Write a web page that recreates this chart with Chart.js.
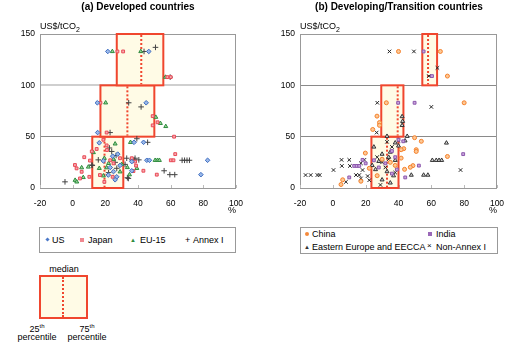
<!DOCTYPE html>
<html>
<head>
<meta charset="utf-8">
<script src="https://cdn.jsdelivr.net/npm/chart.js@4"></script>
<style>
  body { margin: 0; background: #fff; font-family: "Liberation Sans", Arial, sans-serif; color: #000; }
  #wrap { position: relative; width: 522px; height: 344px; overflow: hidden; }
  canvas { position: absolute; top: 0; }
  .t { position: absolute; white-space: nowrap; font-size: 9px; line-height: 10px; }
  .title { font-weight: bold; font-size: 10px; text-align: center; }
  .legend { position: absolute; border: 1px solid #999; box-sizing: border-box; }
  .mk { position: absolute; box-sizing: border-box; }
  .c { transform: translateX(-50%); text-align: center; }
</style>
</head>
<body>
<div id="wrap">
  <canvas id="devChart" width="261" height="220" style="left:0"></canvas>
  <canvas id="dingChart" width="261" height="220" style="left:261px"></canvas>

  <div class="t title c" style="left:138px; top:2px">(a) Developed countries</div>
  <div class="t title c" style="left:399px; top:2px">(b) Developing/Transition countries</div>
  <div class="t" style="left:40px; top:21px">US$/tCO<sub style="font-size:7px">2</sub></div>
  <div class="t" style="left:300px; top:21px">US$/tCO<sub style="font-size:7px">2</sub></div>

  <div class="legend" style="left:39px; top:227px; width:197px; height:26px"></div>
  <div class="mk" style="left:46px; top:238px; width:3px; height:3px; background:#4a78c8; transform:rotate(45deg)"></div>
  <div class="t" style="left:52px; top:235px">US</div>
  <div class="mk" style="left:80px; top:238px; width:4px; height:4px; background:#f08890"></div>
  <div class="t" style="left:88px; top:235px">Japan</div>
  <div class="t" style="left:130px; top:235px; font-size:6px; color:#2e8b3e">▲</div>
  <div class="t" style="left:140px; top:235px">EU-15</div>
  <div class="t" style="left:185px; top:235px">+</div>
  <div class="t" style="left:193px; top:235px">Annex I</div>

  <div class="legend" style="left:300px; top:227px; width:198px; height:27px"></div>
  <div class="mk" style="left:305px; top:232px; width:4px; height:4px; background:#f5893a; border-radius:50%"></div>
  <div class="t" style="left:312px; top:229px">China</div>
  <div class="mk" style="left:428px; top:232px; width:4px; height:4px; background:#9a68b8"></div>
  <div class="t" style="left:436px; top:229px">India</div>
  <div class="t" style="left:304px; top:242px; font-size:6px; color:#333">▲</div>
  <div class="t" style="left:312px; top:242px">Eastern Europe and EECCA</div>
  <div class="t" style="left:427px; top:241px; font-size:8px">×</div>
  <div class="t" style="left:436px; top:242px">Non-Annex I</div>

  <div class="t c" style="left:64px; top:264px">median</div>
  <div class="mk" style="left:39px; top:275px; width:49px; height:44px; border:2px solid #f0462e; background:#fffbe6"></div>
  <div class="mk" style="left:62px; top:277px; width:0; height:40px; border-left:2px dotted #f0462e"></div>
  <div class="t c" style="left:37px; top:321px">25<sup style="font-size:6px">th</sup></div>
  <div class="t c" style="left:37px; top:332px">percentile</div>
  <div class="t c" style="left:87px; top:321px">75<sup style="font-size:6px">th</sup></div>
  <div class="t c" style="left:87px; top:332px">percentile</div>
</div>

<script>
// (a) developed countries: [share %, price US$/tCO2]
const usPts = [[21.5,133],[46.6,133],[15.1,83],[45,83],[15.3,54],[37.6,44.5],[43.4,44.5],[16.3,44],[24.5,31],[27.6,33],
  [18.8,26.4],[36.2,25.7],[45.4,27],[47,27],[82.6,27],[21.8,12.6],[27,10.9],[36.2,16.8],[78.5,13],[23,20],[29,22],[25,16],[26,8]];
const japanPts = [[27.4,133],[30.9,133],[58,108],[60,108],[17,83],[49,70],[52,64],[49,61],[20.8,54],[62.1,50],[18.8,47],
  [20.8,41.5],[14.7,38],[11.7,35.6],[7.1,30],[10.6,26.7],[1.4,22.4],[2.4,19.1],[5.5,15.8],[4.5,9.3],[10.2,10.9],[16.7,12.6],
  [24.5,10.9],[29,29],[36.2,29],[38.2,25.7],[37.2,16.5],[38.8,21.8],[43.3,16.8],[51.5,13],[60.1,27],[61.7,27],[62.8,33],
  [19.4,6],[21,37],[23,27],[25,24]];
const euPts = [[24.3,133],[41.7,133],[56.8,108],[20.2,83],[50.9,69],[53.7,63],[57,60],[26,43],[35.4,44.5],[12.7,34.6],
  [19.4,29],[9.6,20.5],[5.5,19.8],[6.5,10.3],[16.3,19.2],[20.8,19.8],[18.8,11.9],[29,15.8],[30,23],[33.5,20],[39.3,19.2],
  [50.5,27],[51.9,27],[53.1,27],[1.5,7.6],[2.5,6],[34.8,13],[22,24],[25,28]];
const annexPts = [[43.7,133],[50.7,137],[59.7,108],[34.3,83],[41.9,79],[22.9,54],[39.3,48],[45.9,44.5],[22.5,39],[23.9,35.6],
  [26.6,31.7],[15.7,27.4],[33.1,29],[38.2,29],[36.2,27.4],[37.6,27.4],[40.5,27.4],[32.1,23],[27,19.2],[33.5,10],[34.1,9.3],
  [-4.7,6],[56,16.8],[59.5,13],[62.5,13],[67,27],[68.5,27],[70,27],[71.5,27],[12,22],[22,15],[26,25],[11.7,22.4]];

// (b) developing / transition countries
const chinaPts = [[40,133],[65.5,133],[69.8,109],[32.6,83],[80,83],[26.9,70],[28.4,63.7],[28.4,61],[24.3,57],[49.8,49],
  [53.9,45.5],[43.2,38.3],[41.6,37.3],[50.8,37.3],[50.8,35.6],[69.8,30.7],[48.8,21.8],[47.2,20.2],[43.7,18.2],[19.8,34],
  [22.2,19.2],[5,3.4],[17.1,6.6],[41.6,29.1],[35,25],[38,22],[30,28],[27,12],[6,8]];
const indiaPts = [[55.3,133],[60.4,109],[39.8,83],[49.8,83],[42.9,45.5],[79.4,33],[52.4,21.8],[44.1,10.3],[13,21.5],
  [14.5,21.5],[16.1,21.5],[18.1,27.4],[10,10.3],[36,36],[38,30],[32,24],[28,20],[36,14],[39,18],[25,27],[20,24],[40,47]];
const eeccaPts = [[42.2,69.6],[42.5,65],[42.2,61],[33,50.4],[45.3,50.4],[69.2,43.9],[60.6,27],[63,27],[64.7,27],[66.3,27],
  [47.8,12.6],[55.3,12.6],[57.9,12.6],[25,40],[30,33],[35,35],[34,30],[28,26],[38,27],[26,18],[33,16],[37,12],[30,8],
  [35,5],[24,22],[38,44],[40,41],[44,46]];
const nonAnnexPts = [[34.5,133],[49.4,133],[63.7,117],[58.5,109],[27.1,83],[60,79],[26.7,54],[-16.6,12.6],[-13.5,12.6],
  [-9.4,12.6],[-8,12.6],[0.4,17.5],[5.3,27.4],[10,27.4],[5.5,21.5],[10.4,21.5],[17.1,24.1],[19.2,27.4],[14.1,12.6],
  [16.1,12.6],[17.1,9.3],[18.1,17.5],[21.2,11.6],[22.2,7.6],[77.8,17.5],[8,6],[34,28],[36,40],[30,25],[32,20],[38,15],
  [27,30],[40,46],[33,45],[29,3]];

// price bands and quartiles of the share
const bandLow = [0, 50, 100];
const bandHigh = [50, 100, 150];
const devQ1 = [12, 17, 27];
const devMed = [19.5, 33.5, 42];
const devQ3 = [31, 50, 55.5];
const dingQ1 = [23.5, 29.5, 54.5];
const dingMed = [33, 39.5, 58];
const dingQ3 = [40, 43, 63.5];

const xTicks = [-20, 0, 20, 40, 60, 80, 100];
const yTicks = [0, 50, 100, 150];

const toXY = pts => pts.map(p => ({ x: p[0], y: p[1] }));

const bandPlugin = {
  id: 'bands',
  beforeDatasetsDraw(chart, args, opts) {
    const { ctx, chartArea: a, scales: { x, y } } = chart;
    ctx.save();
    // frame
    ctx.strokeStyle = '#999';
    ctx.lineWidth = 1;
    ctx.strokeRect(a.left + 0.5, a.top + 0.5, a.right - a.left - 1, a.bottom - a.top);
    // small inner ticks on the x axis
    ctx.strokeStyle = '#bbb';
    xTicks.forEach(v => {
      const px = Math.round(x.getPixelForValue(v)) + 0.5;
      ctx.beginPath(); ctx.moveTo(px, a.bottom); ctx.lineTo(px, a.bottom - 3); ctx.stroke();
    });
    for (let i = 0; i < opts.q1.length; i++) {
      const l = x.getPixelForValue(opts.q1[i]);
      const r = x.getPixelForValue(opts.q3[i]);
      const t = y.getPixelForValue(bandHigh[i]);
      const b = y.getPixelForValue(bandLow[i]);
      ctx.fillStyle = '#fffbe6';
      ctx.fillRect(l, t, r - l, b - t);
      ctx.strokeStyle = '#f0462e';
      ctx.lineWidth = 2;
      ctx.setLineDash([]);
      ctx.strokeRect(l, t, r - l, b - t);
      const m = x.getPixelForValue(opts.med[i]);
      ctx.setLineDash([2, 2]);
      ctx.beginPath(); ctx.moveTo(m, t + 1); ctx.lineTo(m, b - 1); ctx.stroke();
    }
    ctx.restore();
  }
};

function series(label, pts, style, fill, line, r) {
  return {
    label, data: toXY(pts), pointStyle: style,
    backgroundColor: fill, borderColor: line,
    pointRadius: r || 2, pointBorderWidth: 1, showLine: false
  };
}

function makeChart(id, datasets, q1, med, q3, yWidth, grid100) {
  return new Chart(document.getElementById(id), {
    type: 'scatter',
    data: { datasets },
    plugins: [bandPlugin],
    options: {
      responsive: false,
      animation: false,
      devicePixelRatio: 1,
      layout: { padding: { top: 34, right: 25, left: 0, bottom: 0 } },
      plugins: {
        legend: { display: false },
        tooltip: { enabled: false },
        bands: { q1, med, q3 }
      },
      scales: {
        x: {
          type: 'linear', min: -20, max: 100,
          afterFit: s => { s.height = 32; },
          afterBuildTicks: s => { s.ticks = xTicks.map(v => ({ value: v })); },
          ticks: { font: { size: 8.5, family: 'Liberation Sans' }, color: '#000', padding: 3, maxRotation: 0 },
          grid: { display: false },
          border: { display: false },
          title: { display: true, text: '%', align: 'end', font: { size: 9, family: 'Liberation Sans' }, color: '#000', padding: { top: 0, bottom: 4 } }
        },
        y: {
          type: 'linear', min: 0, max: 150,
          afterFit: s => { s.width = yWidth; },
          afterBuildTicks: s => { s.ticks = yTicks.map(v => ({ value: v })); },
          ticks: { font: { size: 8.5, family: 'Liberation Sans' }, color: '#000', padding: 5 },
          grid: {
            drawTicks: false,
            color: c => c.tick.value === 50 ? '#8a8a8a' : c.tick.value === 100 ? grid100.color : 'rgba(0,0,0,0)',
            lineWidth: c => c.tick.value === 100 ? grid100.width : 1
          },
          border: { display: false }
        }
      }
    }
  });
}

makeChart('devChart', [
  series('US', usPts, 'rectRot', '#9ab8e8', '#3d6cc0', 2.3),
  series('Japan', japanPts, 'rect', '#f7aab0', '#e84a56'),
  series('EU-15', euPts, 'triangle', '#9ad69a', '#2e8b3e', 2.3),
  series('Annex I', annexPts, 'cross', '#555', '#444', 2.8)
], devQ1, devMed, devQ3, 40, { color: '#cfcfcf', width: 2 });

makeChart('dingChart', [
  series('China', chinaPts, 'circle', '#fcc896', '#f5802a'),
  series('India', indiaPts, 'rect', '#c9a6de', '#8c58ac'),
  series('Eastern Europe and EECCA', eeccaPts, 'triangle', '#d8d8d8', '#333', 2.3),
  series('Non-Annex I', nonAnnexPts, 'crossRot', '#222', '#222', 2.5)
], dingQ1, dingMed, dingQ3, 39, { color: '#8a8a8a', width: 1 });
</script>
</body>
</html>
